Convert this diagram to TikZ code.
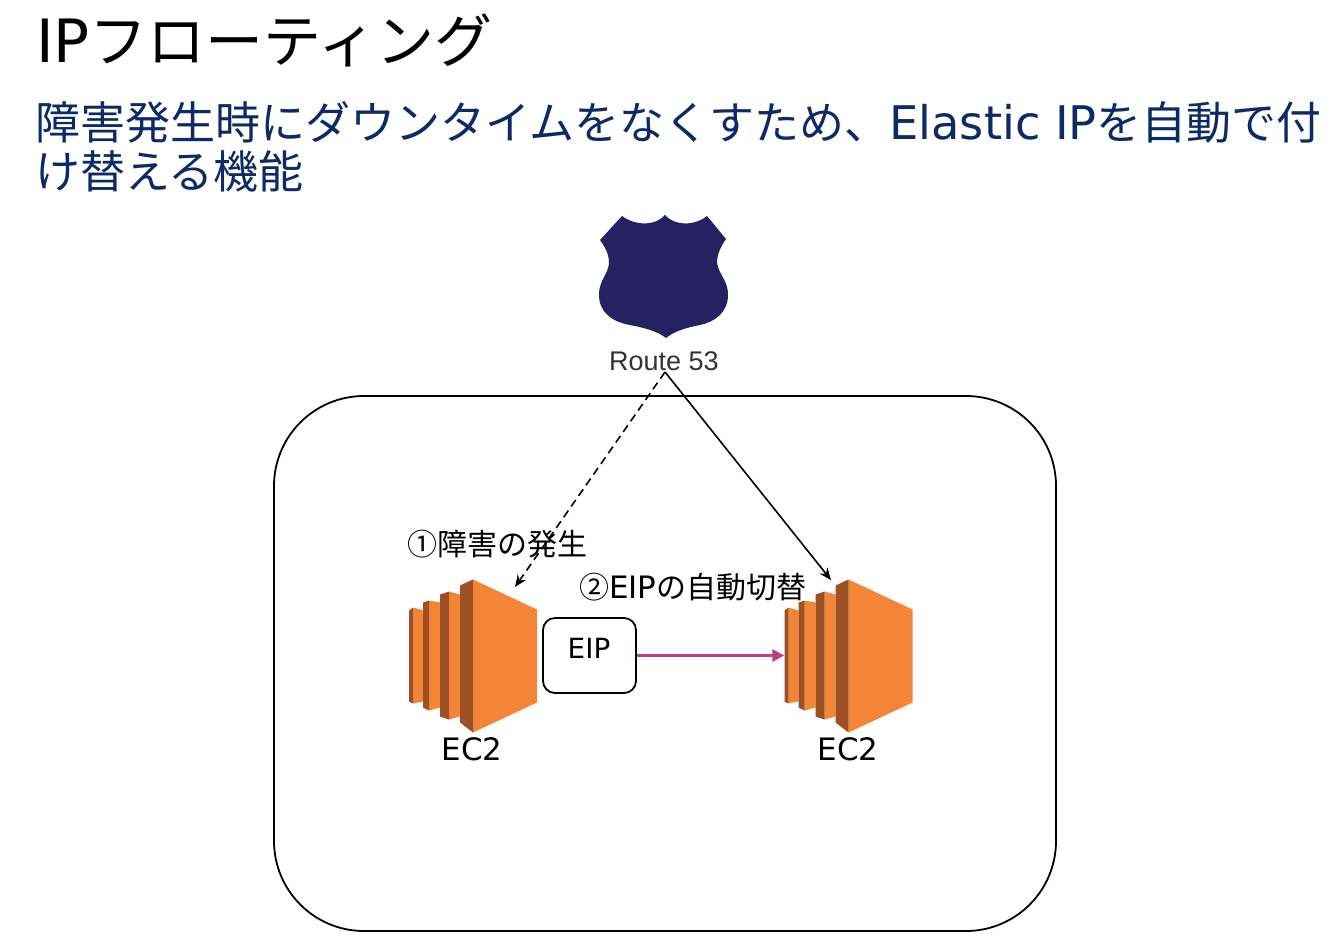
\documentclass[tikz,border=0pt]{standalone}
\usepackage{fontspec}
\setmainfont{Noto Sans CJK JP}
\newfontfamily\latinfont[Scale=1.03]{DejaVu Sans}
\newfontfamily\routefont{Liberation Sans}
\usetikzlibrary{arrows.meta, positioning}
\definecolor{ec2light}{HTML}{F58536}
\definecolor{ec2dark}{HTML}{9D5025}
\definecolor{shieldblue}{HTML}{262262}
\definecolor{subblue}{HTML}{0B2A66}
\definecolor{eipline}{HTML}{BC3E84}

\tikzset{
  ec2icon/.pic={
    % slabs, small to large
    \foreach \xa/\xb/\xc/\ya/\yb/\yc/\yd in {-64/-60/-50/-48/-45/48/46, -50/-44/-33/-55/-53/55/52, -33/-24/-13/-64/-61/64/61} {
      \fill[ec2light] (\xb,\ya) -- (\xc,\yb) -- (\xc,\yd) -- (\xb,\yc) -- cycle;
      \fill[ec2dark] (\xa,\yb) -- (\xb,\ya) -- (\xb,\yc) -- (\xa,\yd) -- cycle;
    }
    \fill[ec2light] (0,-76) -- (64,-46) -- (64,47) -- (0,77) -- cycle;
    \fill[ec2dark] (-13,-70) -- (0,-76) -- (0,77) -- (-13,67) -- cycle;
  }
}

\begin{document}
\begin{tikzpicture}[x=1pt, y=-1pt,
    title/.style={inner sep=0pt, anchor=west, font=\fontsize{58}{62}\selectfont},
    subtitle/.style={inner sep=0pt, anchor=north west, align=left, text=subblue, font=\fontsize{45}{49}\selectfont},
    label/.style={inner sep=0pt, font=\fontsize{30}{34}\selectfont},
    ec2box/.style={inner sep=0pt, minimum width=128pt, minimum height=153pt},
    eipbox/.style={draw, line width=1.8pt, rounded corners=12pt, minimum width=93pt, minimum height=75pt, inner sep=0pt},
    vpcbox/.style={draw, line width=1.8pt, rounded corners=90pt, minimum width=782pt, minimum height=535pt}]

  \useasboundingbox (0,0) rectangle (1344,952);

  % Heading
  \node[title] (title) at (36,40) {{\latinfont IP}フローティング};
  \node[subtitle] (subtitle) at (35,101) {障害発生時にダウンタイムをなくすため、{\latinfont Elastic IP}を自動で付\\け替える機能};

  % Group frame
  \node[vpcbox] (vpc) at (665,663.5) {};

  % Route 53 shield
  \fill[shieldblue] (622,216) .. controls (632,224) and (653,228) .. (665,215)
    .. controls (677,228) and (698,224) .. (707,216) -- (726,239)
    .. controls (721,246) and (717,254) .. (717,263)
    .. controls (719,275) and (728,280) .. (728,295)
    .. controls (728,312) and (715,322) .. (700,325)
    .. controls (685,328) and (675,331) .. (666,338)
    .. controls (657,331) and (645,328) .. (630,325)
    .. controls (612,322) and (599,312) .. (599,295)
    .. controls (599,280) and (608,275) .. (609,263)
    .. controls (609,254) and (605,247) .. (600,240) -- cycle;
  \node[inner sep=0pt, text=black!80, font=\fontsize{27}{30}\routefont] (route) at (664,361) {Route 53};

  % EC2 icons
  \node[ec2box] (ec2a) at (473,655.5) {};
  \node[ec2box] (ec2b) at (848.5,655.5) {};
  \pic at (ec2a) {ec2icon};
  \pic at (ec2b) {ec2icon};
  \node[label] (ec2alabel) at (472,749) {\latinfont EC2};
  \node[label] (ec2blabel) at (848,749) {\latinfont EC2};

  % EIP
  \node[eipbox] (eip) at (589.5,655.5) {};
  \node[inner sep=0pt, font=\fontsize{27}{32}\latinfont] (eiptext) at (589,648) {EIP};

  % Arrows
  \coordinate (routeout) at (665,372);
  \coordinate (ec2ain) at (515,587);
  \coordinate (ec2bin) at (831,580);
  \draw[-{Stealth[length=12pt, width=10pt]}, line width=1.6pt, dash pattern=on 8pt off 5pt] (routeout) -- (ec2ain);
  \draw[-{Stealth[length=12pt, width=10pt]}, line width=1.6pt] (routeout) -- (ec2bin);
  \draw[-{Stealth[length=12pt, width=12pt, inset=0pt]}, line width=3.6pt, eipline] (eip.east) -- (ec2b.west);

  % Annotations
  \node[label, anchor=west] (fail) at (407,544) {①障害の発生};
  \node[label, anchor=west] (switch) at (579,587) {②{\latinfont EIP}の自動切替};
\end{tikzpicture}
\end{document}
